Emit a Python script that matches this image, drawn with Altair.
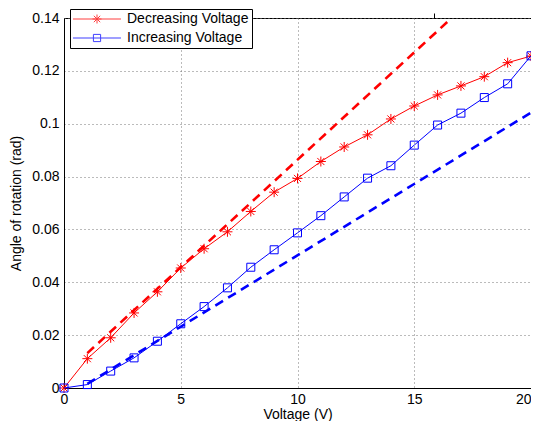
import altair as alt
import pandas as pd

# ---- data ----
voltage = list(range(21))
dec_angle = [0.0, 0.0111, 0.0190, 0.0284, 0.0364, 0.0454, 0.0527, 0.0591, 0.0668, 0.0741,
             0.0793, 0.0857, 0.0912, 0.0958, 0.1018, 0.1067, 0.1109, 0.1143, 0.1178, 0.1231, 0.1256]
inc_angle = [0.0, 0.0013, 0.0064, 0.0114, 0.0177, 0.0243, 0.0308, 0.0379, 0.0457, 0.0523,
             0.0587, 0.0652, 0.0723, 0.0794, 0.0841, 0.0919, 0.0995, 0.1040, 0.1099, 0.1151, 0.1257]
dec_fit_v = [1, 16.6]
dec_fit_a = [0.0132, 0.14]
inc_fit_v = [1, 20]
inc_fit_a = [0.0016, 0.1042]
series_names = ["Decreasing Voltage", "Increasing Voltage"]
series_colors = ["#ff0000", "#0000ff"]
x_ticks = [0, 5, 10, 15, 20]
y_ticks = [0, 0.02, 0.04, 0.06, 0.08, 0.1, 0.12, 0.14]

FONT = "Liberation Sans"
W, H = 467, 370

dec_df = pd.DataFrame({"V": voltage, "angle": dec_angle, "series": series_names[0]})
inc_df = pd.DataFrame({"V": voltage, "angle": inc_angle, "series": series_names[1]})
all_df = pd.concat([dec_df, inc_df], ignore_index=True)
dec_fit = pd.DataFrame({"V": dec_fit_v, "angle": dec_fit_a})
inc_fit = pd.DataFrame({"V": inc_fit_v, "angle": inc_fit_a})

star_path = "M-1,0L1,0M0,-1L0,1M-0.71,-0.71L0.71,0.71M-0.71,0.71L0.71,-0.71"
square_path = "M-1,-1L1,-1L1,1L-1,1Z"
legend_star = ("M-1.56,0L9.1,0M2.78,0L4.78,0M3.78,-1L3.78,1"
               "M3.07,-0.71L4.49,0.71M3.07,0.71L4.49,-0.71")
legend_square = "M-1.56,0L9.1,0M2.98,-0.8L4.58,-0.8L4.58,0.8L2.98,0.8Z"

xscale = alt.Scale(domain=[0, 20], nice=False, zero=False)
yscale = alt.Scale(domain=[0, 0.14], nice=False, zero=False)

x_main = alt.Axis(orient="bottom", values=x_ticks, format="d", grid=True, ticks=False,
                  labelFlush=False, labelPadding=4, title="Voltage (V)",
                  labelAlign={"condition": {"test": "datum.value == 20", "value": "right"},
                              "value": "center"},
                  titleBaseline="alphabetic", titleY=30)
y_main = alt.Axis(orient="left", values=y_ticks, format="~g", grid=True, ticks=False,
                  labelFlush=False, labelPadding=5, title="Angle of rotation (rad)",
                  titlePadding=8)
x_tick = alt.Axis(orient="top", position=H, values=x_ticks, labels=False, domain=False,
                  grid=False, ticks=True, tickSize=5, title=None)
y_tick = alt.Axis(orient="right", position=0, values=y_ticks, labels=False, domain=False,
                  grid=False, ticks=True, tickSize=5, title=None)


def X(axis):
    return alt.X("V:Q", scale=xscale, axis=axis)


def Y(axis):
    return alt.Y("angle:Q", scale=yscale, axis=axis)


red_line = alt.Chart(dec_df).mark_line(color="#ff0000", strokeWidth=1).encode(
    x=X(x_main), y=Y(y_main))
red_pts = alt.Chart(dec_df).mark_point(color="#ff0000", filled=False, strokeWidth=1,
                                         shape=star_path, size=100, opacity=1).encode(
    x=X(x_tick), y=Y(y_tick))
blue_line = alt.Chart(inc_df).mark_line(color="#0000ff", strokeWidth=1).encode(
    x=X(None), y=Y(None))
blue_pts = alt.Chart(inc_df).mark_point(color="#0000ff", filled=False, strokeWidth=1,
                                          shape=square_path, size=64, opacity=1).encode(
    x=X(None), y=Y(None))
red_dash = alt.Chart(dec_fit).mark_line(color="#ff0000", strokeWidth=2.6,
                                        strokeDash=[9, 6]).encode(x=X(None), y=Y(None))
blue_dash = alt.Chart(inc_fit).mark_line(color="#0000ff", strokeWidth=2.6,
                                         strokeDash=[9, 6]).encode(x=X(None), y=Y(None))

leg = alt.Legend(title=None, orient="none", legendX=6, legendY=-9, symbolSize=81,
                 symbolStrokeWidth=1, symbolOpacity=0.75, labelOffset=40, padding=3,
                 rowPadding=5, strokeColor="black", fillColor="white",
                 labelFont=FONT, labelFontSize=14, labelColor="black", cornerRadius=0)
legend_layer = alt.Chart(all_df).mark_point(opacity=0, filled=False).encode(
    x=X(None), y=Y(None),
    color=alt.Color("series:N", scale=alt.Scale(domain=series_names, range=series_colors),
                    legend=leg),
    shape=alt.Shape("series:N", scale=alt.Scale(domain=series_names,
                                                range=[legend_star, legend_square]),
                    legend=leg),
)

chart = alt.layer(red_line, red_pts, blue_line, blue_pts, red_dash, blue_dash,
                  legend_layer).resolve_axis(x="independent", y="independent").properties(
    width=W, height=H,
    autosize=alt.AutoSizeParams(type="none"),
    padding={"left": 56, "top": 10, "right": 0, "bottom": 33},
    background="white",
).configure_view(stroke="black", strokeWidth=1).configure_axis(
    labelFont=FONT, labelFontSize=14, labelColor="black",
    titleFont=FONT, titleFontSize=14, titleColor="black", titleFontWeight="normal",
    domainColor="black", domainWidth=1, tickColor="black", tickWidth=1,
    gridColor="#777777", gridDash=[1, 3], gridWidth=1, gridOpacity=1,
)

chart.save("out.html", embed_options={"renderer": "svg", "actions": False})
